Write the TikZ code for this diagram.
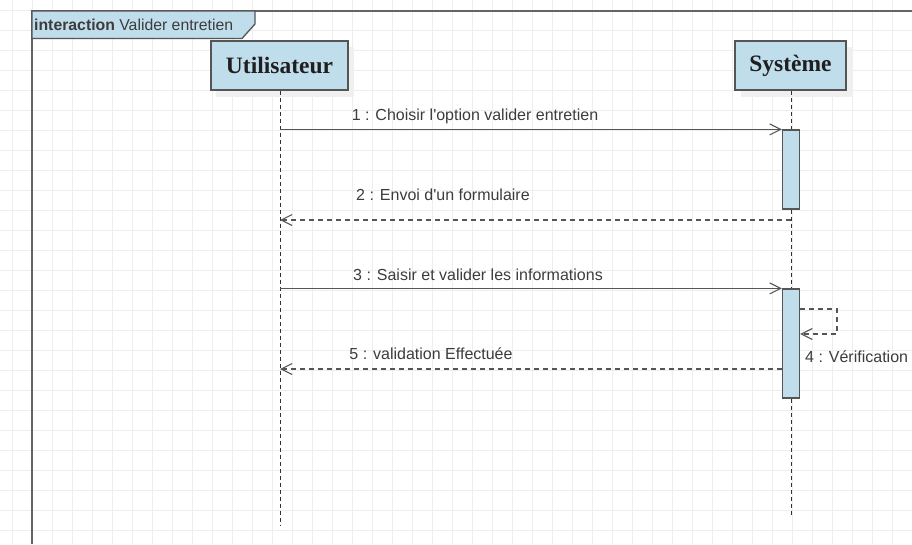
\documentclass[tikz,border=0pt]{standalone}
\usepackage{fontspec}
\setmainfont{Liberation Sans}
\newfontfamily\namefont{Liberation Serif}
\usetikzlibrary{arrows.meta}
\definecolor{boxblue}{RGB}{192,221,236}
\definecolor{edgec}{RGB}{85,85,85}
\definecolor{txt}{RGB}{60,60,60}
\definecolor{gridc}{RGB}{238,238,238}
\definecolor{framec}{RGB}{100,100,100}

\begin{document}
\begin{tikzpicture}[x=1pt,y=-1pt,
  lifebox/.style={draw=edgec, line width=1.3pt, fill=boxblue, minimum height=49pt,
    inner sep=0pt, font=\namefont\bfseries\fontsize{23.5}{28}\selectfont, text=black!88},
  actbox/.style={draw=edgec, line width=1.2pt, fill=boxblue, minimum width=17pt, inner sep=0pt},
  lifeline/.style={draw=black!80, line width=1pt, dash pattern=on 4pt off 3pt},
  msg/.style={draw=edgec, line width=1.3pt, -{Straight Barb[length=11pt,width=11pt,line width=1.1pt]}},
  ret/.style={msg, dash pattern=on 5pt off 4pt},
  lbl/.style={font=\fontsize{16}{19}\selectfont, text=txt, inner sep=0pt},
  shade/.style={fill=black!6}
]
\useasboundingbox (0,0) rectangle (912,544);
\fill[white] (0,0) rectangle (912,544);

% background grid
\foreach \x in {12,32,...,912} \draw[gridc, line width=0.9pt] (\x,0) -- (\x,544);
\foreach \y in {10,30,...,544} \draw[gridc, line width=0.9pt] (0,\y) -- (912,\y);

% interaction frame
\draw[framec, line width=1.5pt] (32,544) -- (32,11) -- (912,11);
\filldraw[fill=boxblue, draw=edgec, line width=1.3pt]
  (32,11) -- (255,11) -- (255,24) -- (242,38.5) -- (32,38.5) -- cycle;
\node[anchor=west, inner sep=0pt, text=txt, font=\fontsize{15.8}{18}\selectfont]
  (flabel) at (34,25) {\textbf{interaction} Valider entretien};

% lifeline heads with soft shadows
\fill[shade] (216,47) rectangle (354,97);
\fill[shade] (741,47) rectangle (852,97);
\node[lifebox, minimum width=137pt] (u) at (279.5,65.5) {Utilisateur};
\node[lifebox, minimum width=111pt] (s) at (790.5,65.5) {Système};

\coordinate (uend) at (280,526);
\coordinate (send) at (791,517);
\draw[lifeline] (u.south -| uend) -- (uend);
\draw[lifeline] (s.south -| send) -- (send);

% activation bars
\node[actbox, minimum height=79pt] (a1) at (791,169.5) {};
\node[actbox, minimum height=109pt] (a2) at (791,343.5) {};

% 1 : request
\draw[msg] (uend |- a1.north) -- (a1.north west);
\node[lbl] (l1) at (475,116) {1 : Choisir l\textquotesingle option valider entretien};

% 2 : reply
\coordinate (r2) at (791,220);
\draw[ret] (r2) -- (uend |- r2);
\node[lbl] (l2) at (443,195) {2 : Envoi d\textquotesingle un formulaire};

% 3 : request
\draw[msg] (uend |- a2.north) -- (a2.north west);
\node[lbl] (l3) at (478,275) {3 : Saisir et valider les informations};

% 4 : self call
\coordinate (c1) at (837,309);
\coordinate (c2) at (837,334);
\draw[ret] (a2.east |- c1) -- (c1) -- (c2) -- (a2.east |- c2);
\node[lbl, anchor=west] (l4) at (805,357) {4 : Vérification};

% 5 : reply
\coordinate (r5) at (a2.west |- 0,369);
\draw[ret] (r5) -- (uend |- r5);
\node[lbl] (l5) at (431,354) {5 : validation Effectuée};
\end{tikzpicture}
\end{document}
